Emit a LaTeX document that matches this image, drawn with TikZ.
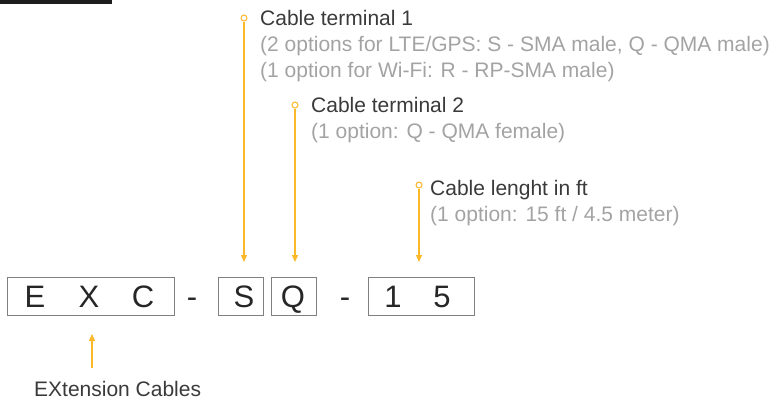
\documentclass[tikz,border=0pt]{standalone}
\usepackage{fontspec}
\setmainfont{Liberation Sans}
\usetikzlibrary{arrows.meta}
\definecolor{orng}{HTML}{FBB829}
\definecolor{grytxt}{HTML}{A3A3A3}
\definecolor{darktxt}{HTML}{3A3A3A}
\definecolor{boxline}{HTML}{808080}
\definecolor{barcol}{HTML}{1E1E1E}
\tikzset{
  title/.style={anchor=base west, inner sep=0pt, text=darktxt, font=\fontsize{21}{26}\selectfont},
  detail/.style={anchor=base west, inner sep=0pt, text=grytxt, font=\fontsize{21}{26}\selectfont, align=left},
  letter/.style={anchor=base, inner sep=0pt, text=black!85, font=\fontsize{31}{36}\selectfont},
  codebox/.style={draw=boxline, line width=1pt, inner sep=0pt},
  pin/.style={circle, draw=orng, fill=white, line width=1pt, inner sep=0pt, minimum size=6pt},
  pointer/.style={draw=orng, line width=1.3pt, -{Triangle[width=6pt,length=7pt]}},
}
\begin{document}
\begin{tikzpicture}[x=1pt,y=-1pt]
\useasboundingbox (0,0) rectangle (781,400);
\fill[barcol] (0,0) rectangle (112,4);
% boxes
\node[codebox, minimum width=167pt, minimum height=38pt, anchor=north west] (exc) at (7,277) {};
\node[codebox, minimum width=45pt, minimum height=38pt, anchor=north west] (sbox) at (218,277) {};
\node[codebox, minimum width=45pt, minimum height=38pt, anchor=north west] (qbox) at (271,277) {};
\node[codebox, minimum width=106pt, minimum height=38pt, anchor=north west] (lbox) at (368,277) {};
% letters
\node[letter] (lE) at (35,307) {E};
\node[letter] (lX) at (89,307) {X};
\node[letter] (lC) at (143,307) {C};
\node[letter] (d1) at (192,307) {-};
\node[letter] (lS) at (244,307) {S};
\node[letter] (lQ) at (293,307) {Q};
\node[letter] (d2) at (345,307) {-};
\node[letter] (l1) at (393,307) {1};
\node[letter] (l5) at (442,307) {5};
% pins
\node[pin] (p1) at (244,18) {};
\node[pin] (p2) at (295,105) {};
\node[pin] (p3) at (419,185) {};
\coordinate (e1) at (244,262);
\coordinate (e2) at (295,262);
\coordinate (e3) at (419,262);
\draw[pointer] (p1) -- (e1);
\draw[pointer] (p2) -- (e2);
\draw[pointer] (p3) -- (e3);
% texts
\node[title] (t1) at (260,25) {Cable terminal 1};
\node[detail, anchor=north west] (t1d) at (260,36) {(2 options for LTE/GPS: S - SMA male, Q - QMA male)\\(1 option for Wi-Fi: R - RP-SMA male)};
\node[title] (t2) at (311,112) {Cable terminal 2};
\node[detail] (t2d) at (311,138) {(1 option: Q - QMA female)};
\node[title] (t3) at (430,195) {Cable lenght in ft};
\node[detail] (t3d) at (430,221) {(1 option: 15 ft / 4.5 meter)};
% bottom
\coordinate (b0) at (92,368);
\coordinate (b1) at (92,334);
\draw[pointer] (b0) -- (b1);
\node[title] (bt) at (34,396) {EXtension Cables};
\end{tikzpicture}
\end{document}
